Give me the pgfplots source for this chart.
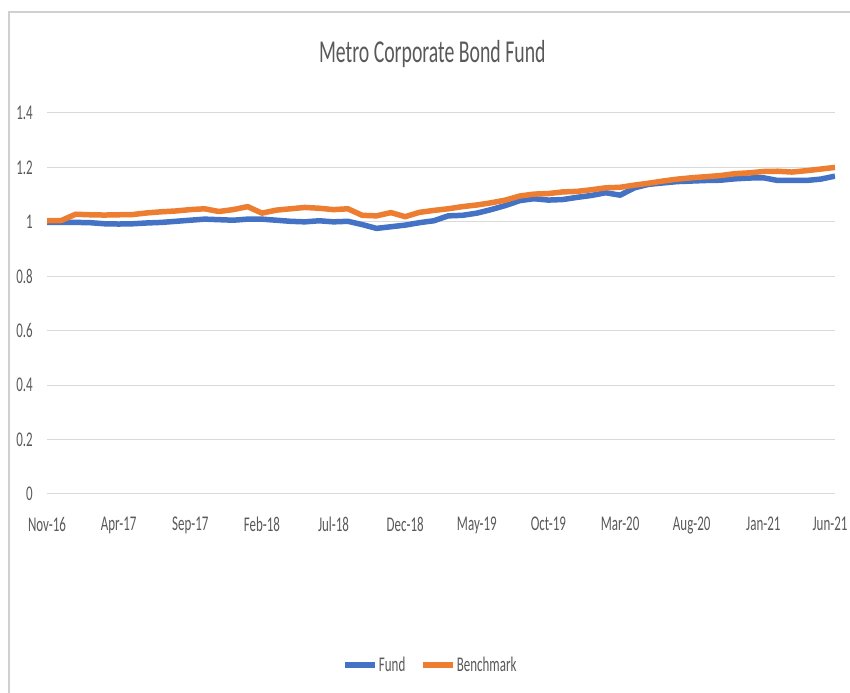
\documentclass[border=0pt]{standalone}
\usepackage{pgfplots}
\usepackage{pgfplotstable}
\pgfplotsset{compat=1.18}
\usepackage{fontspec}
\setmainfont{Carlito}[FakeStretch=0.62]
\definecolor{fundc}{HTML}{4472C4}
\definecolor{benc}{HTML}{ED7D31}
\definecolor{txt}{HTML}{595959}
\definecolor{gridc}{HTML}{D9D9D9}
\definecolor{borderc}{HTML}{D0D0D0}

\pgfplotstableread{
i fund bench
0 0.998 1.004
1 0.998 1.005
2 0.998 1.028
3 0.997 1.026
4 0.993 1.025
5 0.992 1.026
6 0.993 1.027
7 0.996 1.033
8 0.998 1.037
9 1.002 1.040
10 1.006 1.045
11 1.010 1.048
12 1.008 1.038
13 1.006 1.045
14 1.010 1.056
15 1.010 1.032
16 1.006 1.043
17 1.002 1.048
18 1.000 1.053
19 1.004 1.050
20 1.000 1.045
21 1.002 1.048
22 0.990 1.024
23 0.976 1.022
24 0.982 1.034
25 0.988 1.019
26 0.997 1.035
27 1.004 1.042
28 1.022 1.048
29 1.024 1.056
30 1.032 1.062
31 1.045 1.070
32 1.060 1.080
33 1.078 1.095
34 1.085 1.102
35 1.080 1.104
36 1.082 1.110
37 1.090 1.112
38 1.097 1.118
39 1.107 1.125
40 1.098 1.127
41 1.125 1.135
42 1.138 1.142
43 1.143 1.150
44 1.148 1.157
45 1.150 1.162
46 1.152 1.166
47 1.153 1.170
48 1.158 1.177
49 1.161 1.180
50 1.162 1.185
51 1.152 1.186
52 1.152 1.183
53 1.152 1.188
54 1.157 1.194
55 1.168 1.200
}\datatable

\begin{document}
\begin{tikzpicture}
\useasboundingbox (0,0) rectangle (850bp,693bp);
\draw[borderc, line width=1.5bp] (9bp,0bp) -- (9bp,681bp) -- (850bp,681bp);
\begin{axis}[
  at={(47bp,199bp)}, anchor=south west,
  scale only axis, width=788bp, height=381bp,
  xmin=0, xmax=55, ymin=0, ymax=1.4,
  xtick={0,5,10,15,20,25,30,35,40,45,50},
  xticklabels={Nov-16,Apr-17,Sep-17,Feb-18,Jul-18,Dec-18,May-19,Oct-19,Mar-20,Aug-20,Jan-21},
  extra x ticks={55},
  extra x tick labels={Jun-21},
  extra x tick style={xticklabel style={xshift=-5bp}, grid=none},
  ytick={0,0.2,0.4,0.6,0.8,1,1.2,1.4},
  /pgf/number format/assume math mode=true,
  axis line style={draw=none},
  major tick length=0pt,
  tick style={draw=none},
  ymajorgrids,
  grid style={gridc, line width=1bp},
  tick label style={font=\fontsize{21}{24}\selectfont, text=txt, inner sep=0pt},
  xticklabel style={anchor=north, yshift=-23bp},
  yticklabel style={anchor=east, xshift=-14bp},
  title={Metro Corporate Bond Fund},
  title style={at={(0.489,1.139)}, anchor=center, font=\fontsize{32}{36}\selectfont, text=txt},
  legend columns=2,
  legend style={at={(0.486,-0.449)}, anchor=center, draw=none, fill=none,
    font=\fontsize{21}{24}\selectfont, text=txt,
    nodes={inner sep=1bp},
    /tikz/every even column/.append style={column sep=14bp}},
  legend image code/.code={\draw[#1] (0bp,0bp) -- (30bp,0bp);},
]
\addplot[fundc, line width=5.5bp, line join=round, mark=none] table[x=i,y=fund] {\datatable};
\addlegendentry{Fund}
\addplot[benc, line width=5.5bp, line join=round, mark=none] table[x=i,y=bench] {\datatable};
\addlegendentry{Benchmark}
\end{axis}
\end{tikzpicture}
\end{document}
